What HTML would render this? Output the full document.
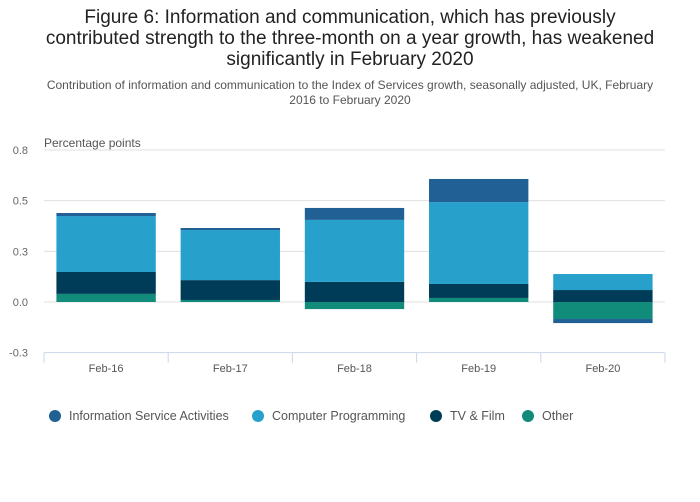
<!DOCTYPE html>
<html><head><meta charset="utf-8"><style>
body{margin:0;background:#fff;font-family:"Liberation Sans",sans-serif;}
#wrap{position:relative;width:700px;height:502px;overflow:hidden;}
.t{position:absolute;left:0;width:700px;text-align:center;}
</style></head><body>
<div id="wrap">
<div class="t" style="top:7px;font-size:19px;line-height:21px;color:#222;">Figure 6: Information and communication, which has previously<br>contributed strength to the three-month on a year growth, has weakened<br>significantly in February 2020</div>
<div class="t" style="top:78px;font-size:12px;line-height:15px;color:#555;">Contribution of information and communication to the Index of Services growth, seasonally adjusted, UK, February<br>2016 to February 2020</div>
<svg id="svg" width="700" height="502" style="position:absolute;left:0;top:0"></svg>
</div>
<script>
const categories=["Feb-16","Feb-17","Feb-18","Feb-19","Feb-20"];
const seriesNames=["Other","TV & Film","Computer Programming","Information Service Activities"];
const other=[0.04,0.01,-0.035,0.02,-0.084];
const tvFilm=[0.108,0.098,0.099,0.069,0.059];
const computerProgramming=[0.276,0.247,0.306,0.404,0.079];
const infoService=[0.015,0.01,0.059,0.114,-0.02];
const tickValues=[-0.25,0,0.25,0.5,0.75];
const tickLabels=["-0.3","0.0","0.3","0.5","0.8"];
const colors=["#118c7b","#003c57","#27a0cc","#206095"];
const svg=document.getElementById('svg');const NS="http://www.w3.org/2000/svg";
const x0=44,x1=665,yZero=302,pxPerUnit=202.7;
const y=v=>yZero-v*pxPerUnit;
const bw=(x1-x0)/categories.length;
function mk(tag,attrs,txt){const e=document.createElementNS(NS,tag);for(const k in attrs)e.setAttribute(k,attrs[k]);if(txt!==undefined)e.textContent=txt;svg.appendChild(e);return e;}
tickValues.forEach((v,i)=>{
 if(i>0){const g=mk('line',{x1:x0,x2:x1,y1:y(v),y2:y(v),stroke:'#e0e0e0','stroke-width':1});
 
 }
 const t=mk('text',{x:28,y:y(v)+4,'text-anchor':'end','font-size':11,fill:'#666'},tickLabels[i]);
 
 
});
const yt=mk('text',{x:44,y:147,'font-size':12,fill:'#555'},'Percentage points');


const ax=mk('line',{x1:x0,x2:x1,y1:y(-0.25),y2:y(-0.25),stroke:'#ccd6e8','stroke-width':1});


for(let i=0;i<=categories.length;i++){const tk=mk('line',{x1:x0+i*bw,x2:x0+i*bw,y1:y(-0.25),y2:y(-0.25)+10,stroke:'#ccd6e8'});
 
 }
const data=[other,tvFilm,computerProgramming,infoService];
categories.forEach((c,i)=>{
 let pos=0,neg=0;const bx=x0+i*bw+bw*0.1,w=bw*0.8;
 data.forEach((s,k)=>{const v=s[i];let a,b;
  if(v>=0){a=pos;b=pos+v;pos=b;}else{a=neg;b=neg+v;neg=b;}
  const r=mk('rect',{x:bx,y:Math.min(y(a),y(b)),width:w,height:Math.abs(y(a)-y(b)),fill:colors[k]});
  
  
 });
 const t=mk('text',{x:x0+i*bw+bw/2,y:372,'text-anchor':'middle','font-size':11,fill:'#555'},c);
 
 
});
const legend=[["Information Service Activities",colors[3],55],["Computer Programming",colors[2],258],["TV & Film",colors[1],436],["Other",colors[0],528]];
legend.forEach(l=>{
 const c=mk('circle',{cx:l[2],cy:416,r:6,fill:l[1]});
 
 
 const t=mk('text',{x:l[2]+14,y:420,'font-size':12.5,fill:'#555'},l[0]);
 
 
});
</script>
</body></html>
